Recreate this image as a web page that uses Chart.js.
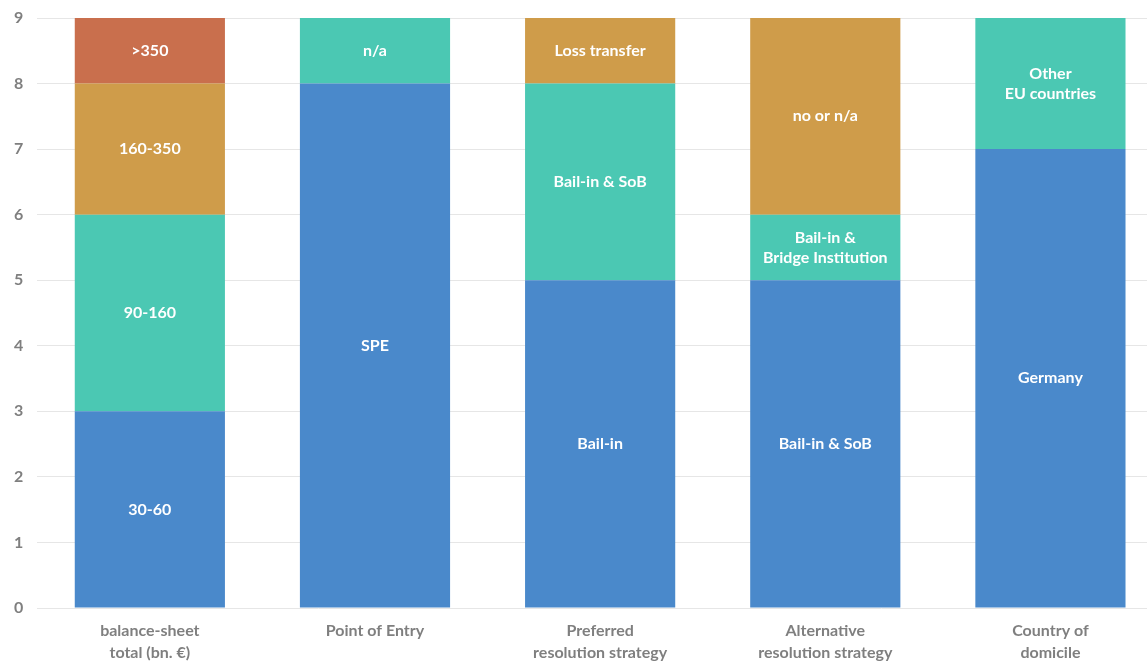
<!DOCTYPE html>
<html>
<head>
<meta charset="utf-8">
<script src="https://cdn.jsdelivr.net/npm/chart.js@4"></script>
<style>
  html, body { margin: 0; padding: 0; background: #fff; overflow: hidden; }
  #wrap { width: 1147px; height: 664px; overflow: hidden; }
</style>
</head>
<body>
<div id="wrap"><canvas id="myChart" width="1163" height="664"></canvas></div>
<script>
let categories = [['balance-sheet', 'total (bn. €)'], 'Point of Entry', ['Preferred', 'resolution strategy'], ['Alternative', 'resolution strategy'], ['Country of', 'domicile']]

let layer1Values = [3, 8, 5, 5, 7]
let layer1Labels = ['30-60', 'SPE', 'Bail-in', 'Bail-in & SoB', 'Germany']
let layer2Values = [3, 1, 3, 1, 2]
let layer2Labels = ['90-160', 'n/a', 'Bail-in & SoB', ['Bail-in &', 'Bridge Institution'], ['Other', 'EU countries']]
let layer3Values = [2, null, 1, 3, null]
let layer3Labels = ['160-350', '', 'Loss transfer', 'no or n/a', '']
let layer4Values = [1, null, null, null, null]
let layer4Labels = ['>350', '', '', '', '']

let yTicks = [0, 1, 2, 3, 4, 5, 6, 7, 8, 9]
let colorHex = ['#4A89CB', '#4BC8B3', '#CF9C4A', '#C96F4D']

let fontName = 'Lato, "Open Sans", sans-serif'

// tulis label di tengah tiap segmen
let segmentLabels = {
    id: 'segmentLabels',
    afterDatasetsDraw(chart) {
        let ctx = chart.ctx
        ctx.save()
        ctx.fillStyle = '#ffffff'
        ctx.font = 'bold 16px ' + fontName
        ctx.textAlign = 'center'
        ctx.textBaseline = 'middle'
        chart.data.datasets.forEach((ds, i) => {
            let meta = chart.getDatasetMeta(i)
            meta.data.forEach((bar, j) => {
                let txt = ds.segLabels[j]
                if (!txt || ds.data[j] == null) return
                let lines = Array.isArray(txt) ? txt : [txt]
                let cy = (bar.y + bar.base) / 2
                let lh = 20
                lines.forEach((ln, k) => {
                    ctx.fillText(ln, bar.x, cy + (k - (lines.length - 1) / 2) * lh)
                })
            })
        })
        ctx.restore()
    }
}

let layers = [
    [layer1Values, layer1Labels],
    [layer2Values, layer2Labels],
    [layer3Values, layer3Labels],
    [layer4Values, layer4Labels],
]

let chartakyu = document.getElementById('myChart').getContext('2d')
let myChart = new Chart(chartakyu, {
    type: 'bar',
    data: {
        labels: categories,
        datasets: layers.map((l, i) => ({
            data: l[0],
            segLabels: l[1],
            backgroundColor: colorHex[i],
            borderWidth: 0,
            categoryPercentage: 1,
            barPercentage: 0.667,
        })),
    },
    plugins: [segmentLabels],
    options: {
        responsive: false,
        animation: false,
        layout: { padding: { top: 18, right: 0, left: 0, bottom: 0 } },
        plugins: {
            legend: { display: false },
            tooltip: { enabled: false },
        },
        scales: {
            x: {
                stacked: true,
                grid: { display: false },
                border: { display: false },
                afterFit(axis) { axis.height = 56 },
                ticks: {
                    color: '#7f7f7f',
                    font: { family: fontName, size: 16, weight: 'bold', lineHeight: 1.35 },
                    padding: 4,
                },
            },
            y: {
                stacked: true,
                min: yTicks[0],
                max: yTicks[yTicks.length - 1],
                afterBuildTicks(axis) {
                    axis.ticks = yTicks.map(v => ({ value: v }))
                },
                afterFit(axis) {
                    axis.paddingTop = 0
                    axis.paddingBottom = 0
                },
                grid: { color: '#e6e6e6', drawTicks: false },
                border: { display: false },
                ticks: {
                    color: '#7f7f7f',
                    font: { family: fontName, size: 16, weight: 'bold' },
                    padding: 14,
                },
            },
        },
    },
})
</script>
</body>
</html>
